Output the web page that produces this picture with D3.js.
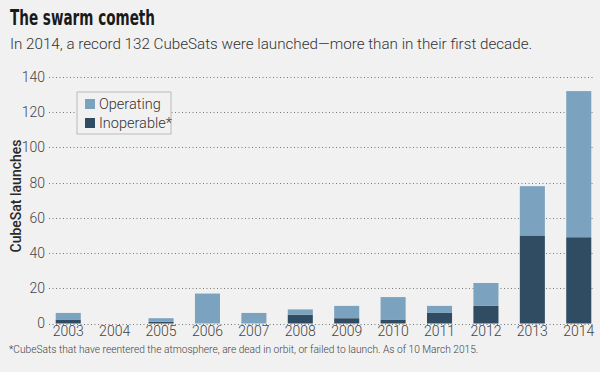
<!DOCTYPE html>
<html>
<head>
<meta charset="utf-8">
<script src="https://cdn.jsdelivr.net/npm/d3@7"></script>
<style>
  html, body { margin: 0; padding: 0; background: #f1f1f1; }
  svg { display: block; }
</style>
</head>
<body>
<svg id="chart" width="600" height="372"></svg>
<script>
// data
const years = ["2003", "2004", "2005", "2006", "2007", "2008", "2009", "2010", "2011", "2012", "2013", "2014"];
const inoperable = [2, 0, 1, 0, 0, 5, 3, 2, 6, 10, 50, 49];
const operating = [4, 0, 2, 17, 6, 3, 7, 13, 4, 13, 28, 83];
const yTicks = [0, 20, 40, 60, 80, 100, 120, 140];
const seriesNames = ["Operating", "Inoperable*"];
const colors = { op: "#7ba3bf", inop: "#2f4c62" };

const svg = d3.select("#chart");
const width = 600, height = 372;
const margin = { top: 77, right: 7, bottom: 49, left: 50 };

const rows = years.map((y, i) => ({ year: y, inop: inoperable[i], op: operating[i] }));
const stack = d3.stack().keys(["inop", "op"])(rows);

const x = d3.scaleBand()
    .domain(years)
    .range([52, 595])
    .paddingInner(0.46)
    .paddingOuter(0.08);

const y = d3.scaleLinear()
    .domain([0, 140])
    .range([height - margin.bottom + 0.5, margin.top]);

// titles
svg.append("text")
    .attr("x", 10).attr("y", 25)
    .attr("font-family", "'DejaVu Sans Condensed', 'Liberation Sans Narrow', sans-serif")
    .attr("font-weight", "bold")
    .attr("font-size", 21)
    .attr("fill", "#1a1a1a")
    .attr("textLength", 145)
    .attr("lengthAdjust", "spacingAndGlyphs")
    .text("The swarm cometh");

svg.append("text")
    .attr("x", 10).attr("y", 49)
    .attr("font-family", "Roboto, sans-serif")
    .attr("font-weight", 300)
    .attr("font-size", 15.2)
    .attr("fill", "#333")
    .text("In 2014, a record 132 CubeSats were launched\u2014more than in their first decade.");

// grid + y axis labels
const grid = svg.append("g");
grid.selectAll("line")
    .data(yTicks)
    .join("line")
    .attr("x1", 49).attr("x2", 593)
    .attr("y1", d => Math.round(y(d)) + 0.5)
    .attr("y2", d => Math.round(y(d)) + 0.5)
    .attr("stroke", "#777")
    .attr("stroke-width", 1)
    .attr("stroke-dasharray", "1,2.5");

const yAxis = svg.append("g")
    .attr("transform", "translate(45,0)")
    .call(d3.axisLeft(y).tickValues(yTicks).tickSize(0).tickPadding(0));
yAxis.select(".domain").remove();
yAxis.selectAll("text")
    .attr("font-family", "Roboto, sans-serif")
    .attr("font-weight", 300)
    .attr("font-size", 14)
    .attr("fill", "#444");

svg.append("text")
    .attr("transform", `translate(21,${196}) rotate(-90)`)
    .attr("text-anchor", "middle")
    .attr("font-family", "Roboto, sans-serif")
    .attr("font-weight", 500)
    .attr("font-size", 14)
    .attr("fill", "#2a2a2a")
    .text("CubeSat launches");

// bars
svg.append("g")
    .selectAll("g")
    .data(stack)
    .join("g")
    .attr("fill", d => colors[d.key])
    .selectAll("rect")
    .data(d => d)
    .join("rect")
    .attr("x", d => x(d.data.year))
    .attr("width", x.bandwidth())
    .attr("y", d => y(d[1]))
    .attr("height", d => y(d[0]) - y(d[1]));

// x axis labels
const xAxis = svg.append("g")
    .attr("transform", `translate(0,${height - margin.bottom + 1})`)
    .call(d3.axisBottom(x).tickSize(0).tickPadding(2));
xAxis.select(".domain").remove();
xAxis.selectAll("text")
    .attr("font-family", "Roboto, sans-serif")
    .attr("font-weight", 300)
    .attr("font-size", 14)
    .attr("fill", "#444");

// legend
const legend = svg.append("g").attr("transform", "translate(77,92)");
legend.append("rect")
    .attr("width", 94).attr("height", 42)
    .attr("fill", "#f1f1f1")
    .attr("stroke", "#bbb");
const items = [{ name: seriesNames[0], c: colors.op }, { name: seriesNames[1], c: colors.inop }];
const li = legend.selectAll(".li")
    .data(items)
    .join("g")
    .attr("transform", (d, i) => `translate(8,${7 + i * 19})`);
li.append("rect")
    .attr("width", 10).attr("height", 10)
    .attr("fill", d => d.c);
li.append("text")
    .attr("x", 14).attr("y", 10)
    .attr("font-family", "Roboto, sans-serif")
    .attr("font-weight", 300)
    .attr("font-size", 14.5)
    .attr("fill", "#333")
    .text(d => d.name);

// footnote
svg.append("text")
    .attr("x", 9).attr("y", 353)
    .attr("font-family", "Roboto, sans-serif")
    .attr("font-weight", 300)
    .attr("font-size", 10.2)
    .attr("fill", "#444")
    .text("*CubeSats that have reentered the atmosphere, are dead in orbit, or failed to launch. As of 10 March 2015.");
</script>
</body>
</html>
